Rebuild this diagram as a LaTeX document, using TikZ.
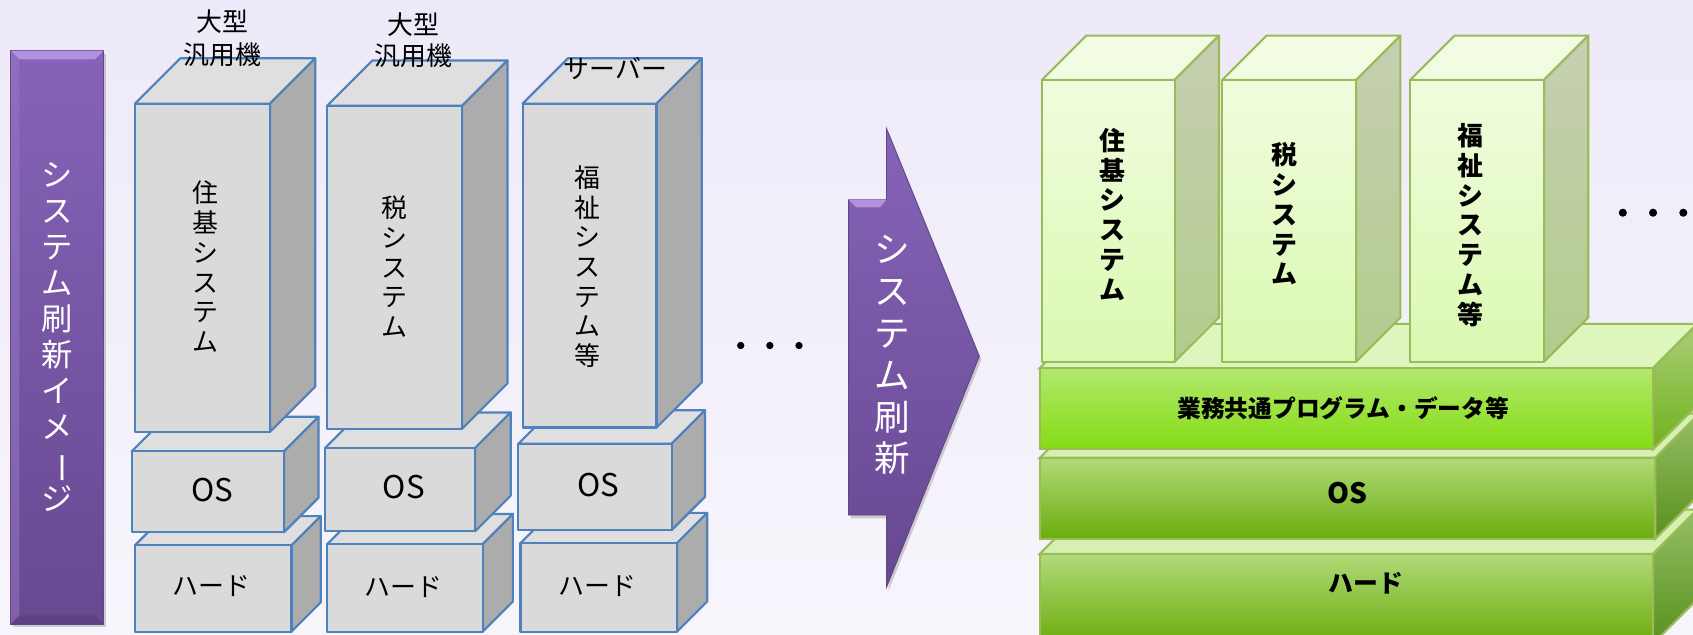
\documentclass[tikz,border=0pt]{standalone}
\usepackage{fontspec}
\usepackage{graphicx}
\newfontfamily\jp{Noto Sans CJK JP}
\usetikzlibrary{shadows}
\definecolor{bgtop}{RGB}{238,233,248}
\definecolor{bgbot}{RGB}{247,245,252}
\definecolor{purtop}{RGB}{134,99,184}
\definecolor{purbot}{RGB}{103,72,145}
\definecolor{purlite}{RGB}{178,145,225}
\definecolor{purline}{RGB}{96,70,132}
\definecolor{lblue}{RGB}{79,129,189}
\definecolor{lfrontc}{RGB}{218,218,218}
\definecolor{ltopc}{RGB}{223,223,223}
\definecolor{lsidec}{RGB}{172,172,172}
\definecolor{gline}{RGB}{155,187,89}
\definecolor{gtopc}{RGB}{241,252,226}
\definecolor{gfronttop}{RGB}{240,252,222}
\definecolor{gfrontbot}{RGB}{218,249,176}
\definecolor{gsidetop}{RGB}{198,207,178}
\definecolor{gsidebot}{RGB}{178,204,140}
\definecolor{mtopc}{RGB}{222,246,190}
\definecolor{mfronttop}{RGB}{178,232,110}
\definecolor{mfrontbot}{RGB}{132,220,18}
\definecolor{msidetop}{RGB}{170,205,120}
\definecolor{msidebot}{RGB}{112,178,28}
\definecolor{ofronttop}{RGB}{176,218,120}
\definecolor{ofrontbot}{RGB}{108,172,14}
\definecolor{osidetop}{RGB}{150,190,100}
\definecolor{osidebot}{RGB}{88,145,30}
\newcommand\cuboid[8]{%
  \path[#7] (#1,#2) -- (#1+#5,#2-#5) -- (#3+#5,#2-#5) -- (#3,#2) -- cycle;
  \path[#8] (#3,#2) -- (#3+#5,#2-#5) -- (#3+#5,#4-#5) -- (#3,#4) -- cycle;
  \path[#6] (#1,#2) rectangle (#3,#4);
}
\tikzset{
  lfront/.style={fill=lfrontc, draw=lblue, line width=2pt, line join=round},
  ltop/.style={fill=ltopc, draw=lblue, line width=2pt, line join=round},
  lside/.style={fill=lsidec, draw=lblue, line width=2pt, line join=round},
  gfront/.style={top color=gfronttop, bottom color=gfrontbot, draw=gline, line width=2pt, line join=round},
  gtop/.style={fill=gtopc, draw=gline, line width=2pt, line join=round},
  gside/.style={top color=gsidetop, bottom color=gsidebot, draw=gline, line width=2pt, line join=round},
  mfront/.style={top color=mfronttop, bottom color=mfrontbot, draw=gline, line width=2pt},
  mtop/.style={fill=mtopc, draw=gline, line width=2pt},
  mside/.style={top color=msidetop, bottom color=msidebot, draw=gline, line width=2pt},
  ofront/.style={top color=ofronttop, bottom color=ofrontbot, draw=gline, line width=2pt},
  otop/.style={fill=mtopc!80!ofronttop, draw=gline, line width=2pt},
  oside/.style={top color=osidetop, bottom color=osidebot, draw=gline, line width=2pt},
  purple shape/.style={top color=purtop, bottom color=purbot, draw=purline, line width=0.8pt,
     drop shadow={opacity=0.35, shadow xshift=2pt, shadow yshift=-3pt}},
  vtext/.style={align=center, inner sep=0pt, font=\jp\fontsize{24}{27.5}\selectfont},
  vtextb/.style={align=center, inner sep=0pt, font=\jp\bfseries\fontsize{24}{27.6}\selectfont},
  ltext/.style={inner sep=0pt, font=\jp\fontsize{24}{31}\selectfont},
  lostext/.style={inner sep=0pt, font=\jp\fontsize{29}{31}\selectfont},
  rtext/.style={inner sep=0pt, font=\jp\bfseries\fontsize{23}{27}\selectfont},
  wtext/.style={align=center, inner sep=0pt, text=white},
  dot/.style={circle, fill=black, inner sep=0pt, minimum size=6.8pt},
}
\newcommand\vbar{\rotatebox[origin=c]{-90}{ー}}
\begin{document}
\begin{tikzpicture}[x=1pt, y=-1pt]
\useasboundingbox (0,0) rectangle (1568,588);
\fill[top color=bgtop, bottom color=bgbot] (0,0) rectangle (1568,588);

% left purple bar
\path[purple shape] (10,47) rectangle (96,578);
\fill[purlite] (10,47) -- (96,47) -- (88,55) -- (18,55) -- cycle;
\fill[purtop!85!white, opacity=0.5] (10,47) -- (18,55) -- (18,570) -- (10,578) -- cycle;
\fill[purbot!80!black, opacity=0.4] (10,578) -- (18,570) -- (88,570) -- (96,578) -- cycle;
\node[wtext, font=\jp\fontsize{29}{33.4}\selectfont] (bartext) at (53,312)
  {シ\\ス\\テ\\ム\\刷\\新\\イ\\メ\\\vbar\\ジ};

% left column 1
\cuboid{125}{505}{270}{585}{27}{lfront}{ltop}{lside}
\cuboid{122}{418}{263}{493}{32}{lfront}{ltop}{lside}
\cuboid{125}{96}{250}{400}{42}{lfront}{ltop}{lside}
% left column 2
\cuboid{303}{504}{447}{585}{28}{lfront}{ltop}{lside}
\cuboid{301}{415}{440}{492}{33}{lfront}{ltop}{lside}
\cuboid{303}{98}{428}{397}{42}{lfront}{ltop}{lside}
% left column 3
\cuboid{482}{503}{627}{585}{28}{lfront}{ltop}{lside}
\cuboid{480}{411}{622}{491}{31}{lfront}{ltop}{lside}
\cuboid{484}{96}{608}{396}{42}{lfront}{ltop}{lside}

\node[ltext] (m1a) at (206,20) {大型};
\node[ltext] (m1b) at (206,51) {汎用機};
\node[ltext] (m2a) at (383,23) {大型};
\node[ltext] (m2b) at (383,52) {汎用機};
\node[ltext] (sv) at (570,63) {サーバー};

\node[vtext] (a1) at (190,247) {住\\基\\シ\\ス\\テ\\ム};
\node[vtext] (a2) at (365,247) {税\\シ\\ス\\テ\\ム};
\node[vtext] (a3) at (544,247) {福\\祉\\シ\\ス\\テ\\ム\\等};
\node[lostext] (os1) at (197,454) {OS};
\node[lostext] (os2) at (374,451) {OS};
\node[lostext] (os3) at (554,449) {OS};
\node[ltext] (hw1) at (196,543) {ハード};
\node[ltext] (hw2) at (374,544) {ハード};
\node[ltext] (hw3) at (553,543) {ハード};

\node[dot] (ld1) at (686,320) {};
\node[dot] (ld2) at (713,320) {};
\node[dot] (ld3) at (740,320) {};

% arrow
\path[purple shape] (786,185) -- (821,185) -- (821,119) -- (907,330) -- (821,544) -- (821,477) -- (786,477) -- cycle;
\fill[purlite] (786,185) -- (821,185) -- (815,192) -- (793,192) -- cycle;
\node[wtext, font=\jp\fontsize{33}{38.7}\selectfont] (arrtext) at (826,329)
  {シ\\ス\\テ\\ム\\刷\\新};

% right layers
\cuboid{963}{513}{1531}{596}{41}{ofront}{otop}{oside}
\cuboid{963}{424}{1533}{499}{41}{ofront}{otop}{oside}
\cuboid{963}{341}{1531}{416}{41}{mfront}{mtop}{mside}
% right tall boxes
\cuboid{965}{74}{1088}{335}{41}{gfront}{gtop}{gside}
\cuboid{1132}{74}{1256}{335}{41}{gfront}{gtop}{gside}
\cuboid{1306}{74}{1430}{335}{41}{gfront}{gtop}{gside}

\node[vtextb] (b1) at (1030,198.5) {住\\基\\シ\\ス\\テ\\ム};
\node[vtextb] (b2) at (1190,198) {税\\シ\\ス\\テ\\ム};
\node[vtextb] (b3) at (1362,208.5) {福\\祉\\シ\\ス\\テ\\ム\\等};
\node[rtext, font=\jp\bfseries\fontsize{22}{26}\selectfont] (common) at (1244,378) {業務共通プログラム・データ等};
\node[rtext, font=\jp\bfseries\fontsize{26}{27}\selectfont] (osr) at (1248,457) {OS};
\node[rtext] (hwr) at (1265,540) {ハード};

\node[dot, minimum size=7.5pt] (rd1) at (1503,197) {};
\node[dot, minimum size=7.5pt] (rd2) at (1531,197) {};
\node[dot, minimum size=7.5pt] (rd3) at (1559,197) {};
\end{tikzpicture}
\end{document}
